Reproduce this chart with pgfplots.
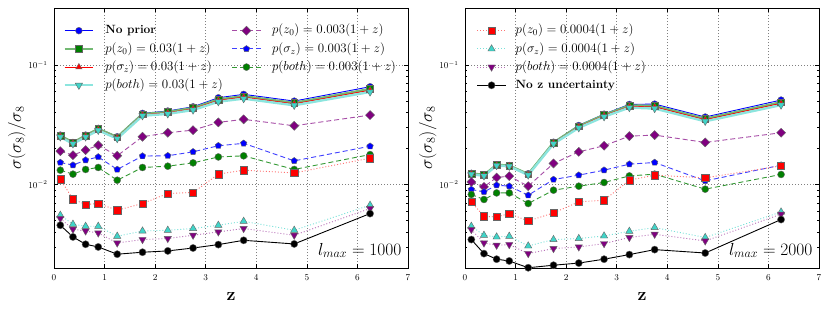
\RequirePackage{fix-cm}
\documentclass[border=0pt]{standalone}
\usepackage{pgfplots}
\pgfplotsset{compat=1.18}
\usepackage{pgfplotstable}

\definecolor{mpgreen}{rgb}{0,0.5,0}
\definecolor{mpcyan}{RGB}{64,212,200}
\definecolor{mppurple}{rgb}{0.5,0,0.5}

\pgfplotstableread{
z     nop    g03    r03    c03    pd     bp      gc      rs      ct      pt      bk
0.125 0.0259 0.0257 0.0254 0.0250 0.0190 0.01528 0.01318 0.01108 0.00553 0.00519 0.00456
0.375 0.0225 0.0224 0.0222 0.0219 0.0176 0.01452 0.01220 0.00753 0.00465 0.00422 0.00364
0.625 0.0259 0.0257 0.0254 0.0250 0.0194 0.01600 0.01336 0.00680 0.00447 0.00408 0.00316
0.875 0.0295 0.0292 0.0288 0.0284 0.0213 0.01700 0.01388 0.00693 0.00447 0.00393 0.00300
1.25  0.0251 0.0249 0.0246 0.0242 0.0174 0.01336 0.01086 0.00609 0.00369 0.00324 0.00261
1.75  0.0394 0.0388 0.0383 0.0376 0.0251 0.01730 0.01388 0.00693 0.00408 0.00346 0.00271
2.25  0.0412 0.0404 0.0398 0.0390 0.0271 0.01740 0.01423 0.00841 0.00414 0.00353 0.00278
2.75  0.0447 0.0437 0.0430 0.0420 0.0285 0.01876 0.01517 0.00857 0.00428 0.00376 0.00294
3.25  0.0532 0.0515 0.0506 0.0493 0.0331 0.02110 0.01700 0.01220 0.00456 0.00401 0.00314
3.75  0.0568 0.0548 0.0538 0.0523 0.0351 0.02210 0.01737 0.01318 0.00492 0.00428 0.00341
4.75  0.0499 0.0482 0.0473 0.0460 0.0310 0.01577 0.01336 0.01250 0.00414 0.00376 0.00318
6.25  0.0658 0.0630 0.0615 0.0595 0.0381 0.02090 0.01780 0.01660 0.00671 0.00629 0.00571
}\dataL

\pgfplotstableread{
z     nop    g03    r03    c03    pd      bp      gc      rs      ct      pt      bk
0.125 0.0124 0.0124 0.0123 0.0122 0.01050 0.00908 0.00825 0.00715 0.00447 0.00420 0.00346
0.375 0.0120 0.0120 0.0119 0.0118 0.00955 0.00867 0.00749 0.00542 0.00376 0.00324 0.00264
0.625 0.0146 0.0146 0.0145 0.0144 0.01145 0.00987 0.00850 0.00535 0.00364 0.00310 0.00237
0.875 0.0144 0.0144 0.0143 0.0142 0.01174 0.00968 0.00850 0.00571 0.00369 0.00314 0.00229
1.25  0.0123 0.0122 0.0121 0.0120 0.00968 0.00813 0.00693 0.00495 0.00306 0.00264 0.00201
1.75  0.0226 0.0224 0.0222 0.0219 0.01500 0.01101 0.00896 0.00578 0.00346 0.00291 0.00211
2.25  0.0312 0.0308 0.0304 0.0298 0.01876 0.01197 0.00968 0.00715 0.00353 0.00300 0.00220
2.75  0.0388 0.0382 0.0377 0.0369 0.02110 0.01318 0.01039 0.00739 0.00371 0.00320 0.00237
3.25  0.0468 0.0458 0.0450 0.0440 0.02540 0.01480 0.01180 0.01086 0.00406 0.00360 0.00259
3.75  0.0471 0.0455 0.0446 0.0432 0.02590 0.01528 0.01220 0.01197 0.00436 0.00383 0.00285
4.75  0.0367 0.0355 0.0348 0.0338 0.02250 0.01072 0.00914 0.01136 0.00360 0.00337 0.00267
6.25  0.0509 0.0488 0.0478 0.0462 0.02710 0.01452 0.01213 0.01432 0.00589 0.00564 0.00509
}\dataR

\tikzset{mk/.style={solid, draw=black!60, line width=0.4bp, fill=#1}}
\pgfplotsset{
  sNoPrior/.style={draw=blue, line width=0.9bp, mark=*, mark size=3.4bp, mark options={mk=blue}},
  sG03/.style={draw=mpgreen!55, line width=2.4bp, mark=square*, mark size=3.4bp, mark options={mk=mpgreen}},
  sR03/.style={draw=red, line width=0.9bp, mark=triangle*, mark size=3.7bp, mark options={mk=red}},
  sC03/.style={draw=mpcyan!60, line width=2.4bp, mark=triangle*, mark size=4.2bp, mark options={mk=mpcyan, rotate=180}},
  sPD/.style={draw=mppurple!70, line width=0.9bp, dash pattern=on 5bp off 3bp, mark=square*, mark size=3.2bp, mark options={mk=mppurple, rotate=45}},
  sBP/.style={draw=blue!75, line width=0.9bp, dash pattern=on 5bp off 3bp, mark=pentagon*, mark size=3.4bp, mark options={mk=blue}},
  sGC/.style={draw=mpgreen!80, line width=0.9bp, dash pattern=on 5bp off 3bp, mark=*, mark size=3.5bp, mark options={mk=mpgreen}},
  sRS/.style={draw=red!55, line width=0.9bp, dash pattern=on 1bp off 2bp, mark=square*, mark size=3.6bp, mark options={mk=red}},
  sCT/.style={draw=mpcyan!70, line width=0.9bp, dash pattern=on 1bp off 2bp, mark=triangle*, mark size=4.2bp, mark options={mk=mpcyan}},
  sPT/.style={draw=mppurple!55, line width=0.9bp, dash pattern=on 1bp off 2bp, mark=triangle*, mark size=4.2bp, mark options={mk=mppurple, rotate=180}},
  sBK/.style={draw=black, line width=0.9bp, mark=*, mark size=3.6bp, mark options={mk=black}},
}

\begin{document}
\begin{tikzpicture}
\pgfplotsset{
  panel/.style={
    scale only axis, width=354bp, height=260bp,
    xmin=0, xmax=7, ymin=2e-3, ymax=0.3,
    xtick={0,1,2,3,4,5,6,7},
    grid=major, grid style={black!50, line width=0.5bp, dash pattern=on 1bp off 2bp},
    axis line style={line width=0.8bp},
    tick align=inside, major tick length=4bp, minor tick length=2bp,
    every tick/.style={black, line width=0.6bp},
    tick label style={font=\fontsize{9}{10}\selectfont},
    xticklabel style={yshift=-3bp},
    yticklabel style={xshift=-3bp},
    xlabel={\textbf{z}},
    xlabel style={font=\fontsize{18}{20}\selectfont, at={(axis description cs:0.5,-0.108)}, anchor=center},
    ylabel={$\sigma(\sigma_8)/\sigma_8$},
    ylabel style={font=\fontsize{17.5}{20}\selectfont, at={(axis description cs:-0.105,0.5)}, anchor=center},
    legend image code/.code={\draw[mark repeat=2, mark phase=2, ##1] plot coordinates {(0bp,0bp) (14.2bp,0bp) (28.4bp,0bp)};},
    legend style={draw=none, fill=none, inner sep=0pt, anchor=north west,
      font=\fontsize{13}{15}\selectfont, row sep=3.2bp,
      nodes={inner sep=1bp, text height=9.75bp, text depth=3.25bp},
      cells={anchor=west}},
  },
}
\path[use as bounding box] (-54bp,-44bp) rectangle (776bp,268bp);

\begin{axis}[ymode=log, panel, at={(0bp,0bp)}, anchor=south west,
  legend columns=2,
  legend style={at={(axis description cs:0,1)}, xshift=9.3bp, yshift=-15bp,
    /tikz/every odd column/.append style={column sep=10bp},
    /tikz/every even column/.append style={column sep=8bp}}]
\addplot[sNoPrior, forget plot] table[x=z, y=nop] {\dataL};
\addplot[sG03, forget plot] table[x=z, y=g03] {\dataL};
\addplot[sR03, forget plot] table[x=z, y=r03] {\dataL};
\addplot[sC03, forget plot] table[x=z, y=c03] {\dataL};
\addplot[sPD, forget plot] table[x=z, y=pd] {\dataL};
\addplot[sBP, forget plot] table[x=z, y=bp] {\dataL};
\addplot[sGC, forget plot] table[x=z, y=gc] {\dataL};
\addplot[sRS, forget plot] table[x=z, y=rs] {\dataL};
\addplot[sCT, forget plot] table[x=z, y=ct] {\dataL};
\addplot[sPT, forget plot] table[x=z, y=pt] {\dataL};
\addplot[sBK, forget plot] table[x=z, y=bk] {\dataL};
\addlegendimage{sNoPrior}\addlegendentry{\fontsize{12}{14}\selectfont\bfseries No prior}
\addlegendimage{sPD}\addlegendentry{$p(z_0) = 0.003(1+z)$}
\addlegendimage{sG03}\addlegendentry{$p(z_0) = 0.03(1+z)$}
\addlegendimage{sBP}\addlegendentry{$p(\sigma_z) = 0.003(1+z)$}
\addlegendimage{sR03}\addlegendentry{$p(\sigma_z) = 0.03(1+z)$}
\addlegendimage{sGC}\addlegendentry{$p(both) = 0.003(1+z)$}
\addlegendimage{sC03}\addlegendentry{$p(both) = 0.03(1+z)$}
\node[anchor=base east, font=\fontsize{17.5}{20}\selectfont] at (axis description cs:0.9915,0.05) {$l_{max} = 1000$};
\end{axis}

\begin{axis}[ymode=log, panel, at={(411bp,0bp)}, anchor=south west,
  legend columns=1,
  legend style={at={(axis description cs:0,1)}, xshift=11.7bp, yshift=-15bp,
    /tikz/every odd column/.append style={column sep=8.5bp}}]
\addplot[sNoPrior, forget plot] table[x=z, y=nop] {\dataR};
\addplot[sG03, forget plot] table[x=z, y=g03] {\dataR};
\addplot[sR03, forget plot] table[x=z, y=r03] {\dataR};
\addplot[sC03, forget plot] table[x=z, y=c03] {\dataR};
\addplot[sPD, forget plot] table[x=z, y=pd] {\dataR};
\addplot[sBP, forget plot] table[x=z, y=bp] {\dataR};
\addplot[sGC, forget plot] table[x=z, y=gc] {\dataR};
\addplot[sRS, forget plot] table[x=z, y=rs] {\dataR};
\addplot[sCT, forget plot] table[x=z, y=ct] {\dataR};
\addplot[sPT, forget plot] table[x=z, y=pt] {\dataR};
\addplot[sBK, forget plot] table[x=z, y=bk] {\dataR};
\addlegendimage{sRS}\addlegendentry{$p(z_0) = 0.0004(1+z)$}
\addlegendimage{sCT}\addlegendentry{$p(\sigma_z) = 0.0004(1+z)$}
\addlegendimage{sPT}\addlegendentry{$p(both) = 0.0004(1+z)$}
\addlegendimage{sBK}\addlegendentry{\fontsize{12}{14}\selectfont\bfseries No z uncertainty}
\node[anchor=base east, font=\fontsize{17.5}{20}\selectfont] at (axis description cs:0.9915,0.05) {$l_{max} = 2000$};
\end{axis}
\end{tikzpicture}
\end{document}
